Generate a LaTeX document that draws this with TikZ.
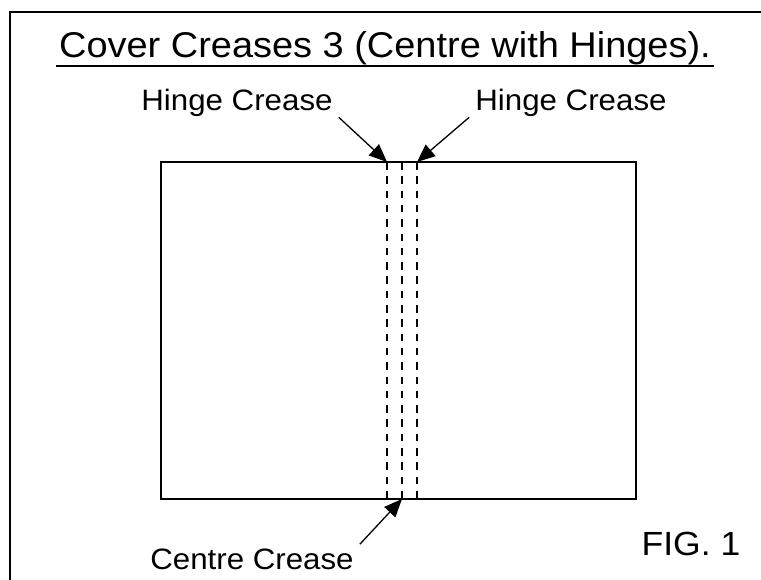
\documentclass[tikz,border=0pt]{standalone}
\usepackage{fontspec}
\setmainfont[FakeStretch=1.06]{Liberation Sans}
\usetikzlibrary{arrows.meta,positioning}

\tikzset{
  lbl/.style={inner sep=0pt, anchor=base, font=\fontsize{29.5}{32}\selectfont},
  crease/.style={dash pattern=on 7.5pt off 6.8pt, line width=1.9pt},
  pointer/.style={-{Triangle[length=18pt,width=15pt]}, line width=1.3pt},
}

\begin{document}
\begin{tikzpicture}[x=1pt,y=1pt]

		\useasboundingbox (0,0) rectangle (761,-579);
		\clip (0,0) rectangle (761,-579);
		\draw[line width=2.6pt] (10,-640) -- (10,-12) -- (800,-12);

		\node (title) [lbl, font=\fontsize{35.8}{38}\selectfont] at (385,-57) {Cover Creases 3 (Centre with Hinges).};
		\draw[line width=2pt] ([xshift=-3pt,yshift=-9pt]title.base west) -- ([xshift=3pt,yshift=-9pt]title.base east);

		\node (cover) [draw, line width=1.2pt, inner sep=0pt, outer sep=0pt, anchor=north west,
		    minimum width=475pt, minimum height=337pt] at (161,-162) {};

		\foreach \x/\n in {226/lh, 241/ct, 256/rh} {
		    \coordinate (\n-top) at ([xshift=\x pt]cover.north west);
		    \coordinate (\n-bot) at ([xshift=\x pt]cover.south west);
		    \draw[crease] (\n-top) -- (\n-bot);
		}

		\node (lhinge) [lbl] at (237,-110) {Hinge Crease};
		\node (rhinge) [lbl] at (571,-110) {Hinge Crease};
		\node (centre) [lbl] at (252,-569) {Centre Crease};
		\node (fig) [lbl, font=\fontsize{33.5}{36}\selectfont] at (691,-555) {FIG. 1};

		\draw[pointer] ([shift={(6pt,-1pt)}]lhinge.south east) -- (lh-top);
		\draw[pointer] ([shift={(-6pt,-1pt)}]rhinge.south west) -- (rh-top);
		\draw[pointer] ([shift={(6pt,4pt)}]centre.north east) -- (ct-bot);
	\end{tikzpicture}
\end{document}
